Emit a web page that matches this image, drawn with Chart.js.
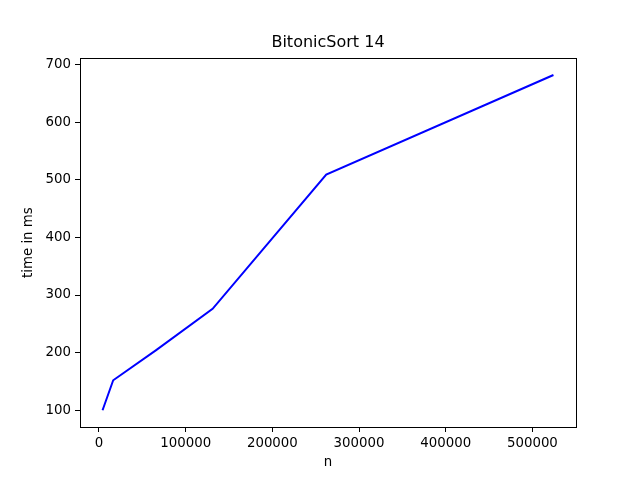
<!DOCTYPE html>
<html>
<head>
<meta charset="utf-8">
<script src="https://cdn.jsdelivr.net/npm/chart.js@4"></script>
<style>
  body { margin: 0; background: #fff; }
  canvas { display: block; }
</style>
</head>
<body>
<canvas id="grafico" width="640" height="480"></canvas>
<script>
// Dados
const tamanhos = [4096, 16384, 65536, 131072, 262144, 524288];
const tempos = [100, 152, 204, 276, 509, 682];
const ticksX = [0, 100000, 200000, 300000, 400000, 500000];
const ticksY = [100, 200, 300, 400, 500, 600, 700];

// margem de 5% como no matplotlib
function limites(valores) {
    const min = Math.min(...valores), max = Math.max(...valores);
    const m = (max - min) * 0.05;
    return [min - m, max + m];
}
const [xMin, xMax] = limites(tamanhos);
const [yMin, yMax] = limites(tempos);

const fonte = { family: 'DejaVu Sans', size: 13.33 };

// moldura em volta da área do gráfico
const moldura = {
    id: 'moldura',
    afterDraw(chart) {
        const { ctx, chartArea: a } = chart;
        ctx.save();
        ctx.strokeStyle = '#000';
        ctx.lineWidth = 1;
        ctx.strokeRect(Math.round(a.left) + 0.5, Math.round(a.top) + 0.5,
            Math.round(a.right - a.left), Math.round(a.bottom - a.top));
        ctx.restore();
    }
};

const ctx = document.getElementById('grafico').getContext('2d');
new Chart(ctx, {
    type: 'line',
    data: {
        datasets: [{
            data: tamanhos.map((n, i) => ({ x: n, y: tempos[i] })),
            yAxisID: 'y',
            borderColor: '#0000ff',
            borderWidth: 2,
            pointRadius: 0,
            tension: 0,
            fill: false
        }]
    },
    options: {
        responsive: false,
        animation: false,
        layout: { padding: { left: 16, right: 0, top: 0, bottom: 0 } },
        plugins: {
            legend: { display: false },
            tooltip: { enabled: false },
            title: {
                display: true,
                text: 'BitonicSort 14',
                color: '#000',
                font: { family: 'DejaVu Sans', size: 16, weight: 'normal', lineHeight: 1.2 },
                padding: { top: 33, bottom: 6 }
            }
        },
        scales: {
            x: {
                type: 'linear',
                min: xMin,
                max: xMax,
                afterBuildTicks: s => { s.ticks = ticksX.map(v => ({ value: v })); },
                afterFit: s => { s.height = 53; },
                grid: { drawOnChartArea: false, drawTicks: true, tickLength: 5, color: '#000' },
                border: { display: false },
                ticks: { color: '#000', font: fonte, padding: 4, maxRotation: 0, callback: v => String(v) },
                title: { display: true, text: 'n', color: '#000', font: fonte, padding: { top: 0, bottom: 9 } }
            },
            y: {
                type: 'linear',
                position: 'left',
                min: yMin,
                max: yMax,
                afterBuildTicks: s => { s.ticks = ticksY.map(v => ({ value: v })); },
                afterFit: s => { s.width = 64; },
                grid: { drawOnChartArea: false, drawTicks: true, tickLength: 5, color: '#000' },
                border: { display: false },
                ticks: { color: '#000', font: fonte, padding: 4, callback: v => String(v) },
                title: { display: true, text: 'time in ms', color: '#000', font: fonte, padding: { top: 5, bottom: 0 } }
            },
            // eixo vazio à direita só para reservar a margem
            direita: {
                type: 'linear',
                position: 'right',
                min: yMin,
                max: yMax,
                afterFit: s => { s.width = 64; },
                grid: { display: false },
                border: { display: false },
                ticks: { display: false }
            }
        }
    },
    plugins: [moldura]
});
</script>
</body>
</html>
